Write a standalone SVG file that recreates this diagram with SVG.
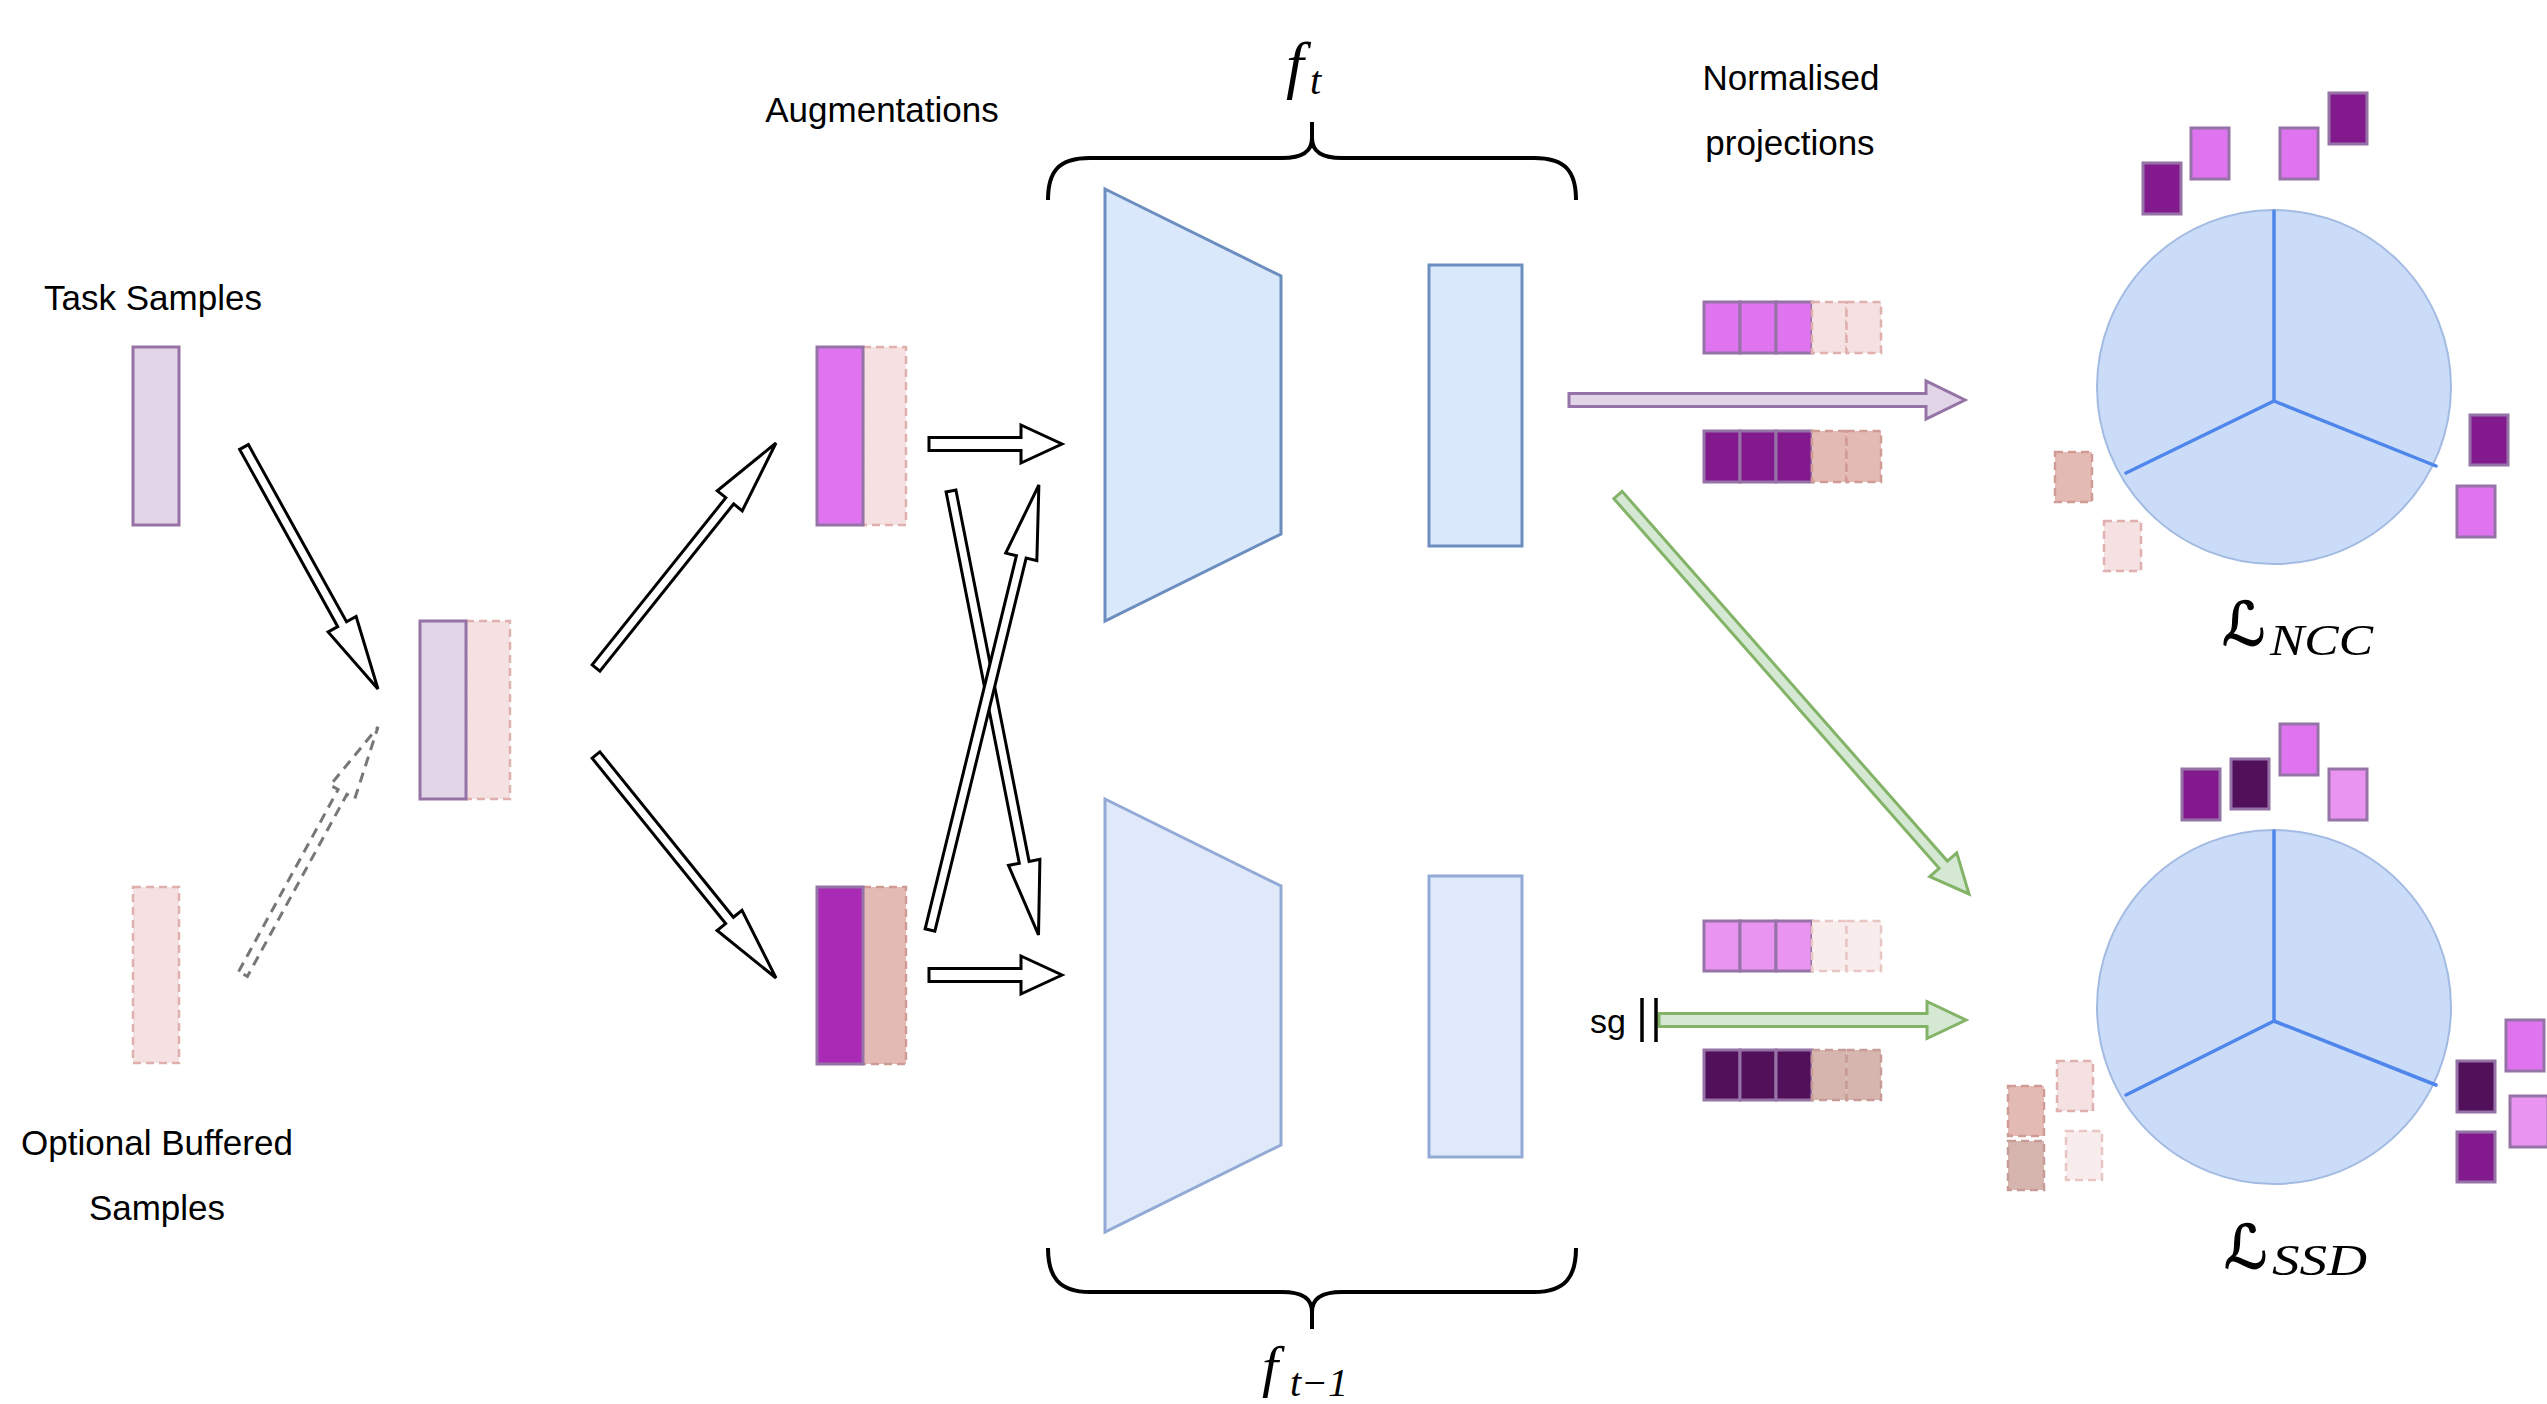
<svg xmlns="http://www.w3.org/2000/svg" width="2547" height="1404" viewBox="0 0 2547 1404">
<style>
.lbl{font-family:"Liberation Sans",Arial,sans-serif;font-size:35px;fill:#000}
.math{font-family:"Liberation Serif","Times New Roman",serif;font-style:italic;fill:#000}
.cal{font-family:"DejaVu Serif","DejaVu Sans",serif;fill:#000;stroke:#000;stroke-width:1.3}
.task{fill:#e1d5e7;stroke:#9673a6;stroke-width:3}
.cell{stroke:#9673a6;stroke-width:3}
.mag{fill:#e074f0}.mag2{fill:#a92bb5}.pur{fill:#82198c}.dk{fill:#520f5a}.lmag{fill:#ea94f2}
.pk{stroke-dasharray:8 5;stroke-width:2.5}
.p1{fill:#f5e1e1;stroke:#e0b0ae}.p2{fill:#e4bab5;stroke:#d09a95}.p3{fill:#f8ecec;stroke:#e8c6c4}.p4{fill:#d6b5ae;stroke:#c89c96}
.enc{fill:#dae8fc;stroke:#6c8ebf;stroke-width:3}
.enc2{fill:#dfe9fa;stroke:#93aad6;stroke-width:3}
.circ{fill:#cbdcf8;stroke:#a3bbe2;stroke-width:2}
.spoke{stroke:#4f86ec;stroke-width:3.5;fill:none;stroke-linecap:round}
.blk{fill:#fff;stroke:#000;stroke-width:3;stroke-linejoin:miter}
.dsh{fill:#fff;stroke:#777;stroke-width:3;stroke-dasharray:10 7}
.parr{fill:#e1d5e7;stroke:#9673a6;stroke-width:3}
.garr{fill:#d5e8d4;stroke:#82b366;stroke-width:3}
.brace{fill:none;stroke:#000;stroke-width:4}
</style>

<g id="labels">
  <text class="lbl" x="153" y="310" text-anchor="middle">Task Samples</text>
  <text class="lbl" x="157" y="1155" text-anchor="middle">Optional Buffered</text>
  <text class="lbl" x="157" y="1220" text-anchor="middle">Samples</text>
  <text class="lbl" x="882" y="122" text-anchor="middle">Augmentations</text>
  <text class="lbl" x="1791" y="90" text-anchor="middle">Normalised</text>
  <text class="lbl" x="1790" y="155" text-anchor="middle">projections</text>
  <text class="lbl" x="1608" y="1033" text-anchor="middle" style="font-size:34px">sg</text>
  <text class="math" x="1286" y="86" style="font-size:64px">f</text>
  <text class="math" x="1310" y="94" style="font-size:40px">t</text>
  <text class="math" x="1262" y="1386" style="font-size:58px">f</text>
  <text class="math" x="1290" y="1396" style="font-size:40px">t−1</text>
  <text class="cal" x="2222" y="645" style="font-size:60px">ℒ</text>
  <text class="math" x="2270" y="655" style="font-size:45px" textLength="103" lengthAdjust="spacingAndGlyphs">NCC</text>
  <text class="cal" x="2224" y="1268" style="font-size:60px">ℒ</text>
  <text class="math" x="2272" y="1275" style="font-size:45px" textLength="95" lengthAdjust="spacingAndGlyphs">SSD</text>
</g>

<g id="task-samples">
  <rect class="task" x="133" y="347" width="46" height="178"/>
</g>
<g id="buffered-samples">
  <rect class="pk p1" x="133" y="887" width="46" height="176"/>
</g>
<g id="combined-batch">
  <rect class="pk p1" x="466" y="621" width="44" height="178"/>
  <rect class="task" x="420" y="621" width="46" height="178"/>
</g>
<g id="aug-top">
  <rect class="pk p1" x="863" y="347" width="43" height="178"/>
  <rect class="cell mag" x="817" y="347" width="46" height="178"/>
</g>
<g id="aug-bottom">
  <rect class="pk p2" x="863" y="887" width="43" height="177"/>
  <rect class="cell mag2" x="817" y="887" width="46" height="177"/>
</g>

<g id="encoder-t">
  <polygon class="enc" points="1105,189 1281,276 1281,534 1105,621"/>
</g>
<g id="projector-t">
  <rect class="enc" x="1429" y="265" width="93" height="281"/>
</g>
<g id="encoder-t-1">
  <polygon class="enc2" points="1105,799 1281,886 1281,1145 1105,1232"/>
</g>
<g id="projector-t-1">
  <rect class="enc2" x="1429" y="876" width="93" height="281"/>
</g>

<g id="brace-t">
  <path class="brace" d="M1048,200 C1048,172 1058,158 1090,158 L1282,158 C1302,158 1312,152 1312,138 L1312,122 M1312,138 C1312,152 1322,158 1342,158 L1534,158 C1566,158 1576,172 1576,200"/>
</g>
<g id="brace-t-1">
  <path class="brace" d="M1048,1248 C1048,1276 1058,1292 1090,1292 L1282,1292 C1302,1292 1312,1298 1312,1312 L1312,1329 M1312,1312 C1312,1298 1322,1292 1342,1292 L1534,1292 C1566,1292 1576,1276 1576,1248"/>
</g>

<g id="proj-top-a">
  <rect class="cell mag" x="1704" y="302" width="36" height="51"/>
  <rect class="cell mag" x="1740" y="302" width="36" height="51"/>
  <rect class="cell mag" x="1776" y="302" width="36" height="51"/>
  <rect class="pk p1" x="1812" y="302" width="34.5" height="51"/>
  <rect class="pk p1" x="1846.5" y="302" width="34.5" height="51"/>
</g>
<g id="proj-top-b">
  <rect class="cell pur" x="1704" y="431" width="36" height="51"/>
  <rect class="cell pur" x="1740" y="431" width="36" height="51"/>
  <rect class="cell pur" x="1776" y="431" width="36" height="51"/>
  <rect class="pk p2" x="1812" y="431" width="34.5" height="51"/>
  <rect class="pk p2" x="1846.5" y="431" width="34.5" height="51"/>
</g>
<g id="proj-bot-a">
  <rect class="cell lmag" x="1704" y="921" width="36" height="50"/>
  <rect class="cell lmag" x="1740" y="921" width="36" height="50"/>
  <rect class="cell lmag" x="1776" y="921" width="36" height="50"/>
  <rect class="pk p3" x="1812" y="921" width="34.5" height="50"/>
  <rect class="pk p3" x="1846.5" y="921" width="34.5" height="50"/>
</g>
<g id="proj-bot-b">
  <rect class="cell dk" x="1704" y="1050" width="36" height="50"/>
  <rect class="cell dk" x="1740" y="1050" width="36" height="50"/>
  <rect class="cell dk" x="1776" y="1050" width="36" height="50"/>
  <rect class="pk p4" x="1812" y="1050" width="34.5" height="50"/>
  <rect class="pk p4" x="1846.5" y="1050" width="34.5" height="50"/>
</g>

<g id="ncc-space">
  <circle class="circ" cx="2274" cy="387" r="177"/>
  <path class="spoke" d="M2274,211 L2274,401 L2126,473 M2274,401 L2436,466"/>
  <rect class="cell pur" x="2143" y="163" width="38" height="51"/>
  <rect class="cell mag" x="2191" y="128" width="38" height="51"/>
  <rect class="cell mag" x="2280" y="128" width="38" height="51"/>
  <rect class="cell pur" x="2329" y="93" width="38" height="51"/>
  <rect class="cell pur" x="2470" y="415" width="38" height="50"/>
  <rect class="cell mag" x="2457" y="486" width="38" height="51"/>
  <rect class="pk p2" x="2055" y="452" width="37" height="50"/>
  <rect class="pk p1" x="2104" y="521" width="37" height="50"/>
</g>

<g id="ssd-space">
  <circle class="circ" cx="2274" cy="1007" r="177"/>
  <path class="spoke" d="M2274,831 L2274,1021 L2126,1095 M2274,1021 L2436,1085"/>
  <rect class="cell pur" x="2182" y="769" width="38" height="51"/>
  <rect class="cell dk" x="2231" y="759" width="38" height="50"/>
  <rect class="cell mag" x="2280" y="724" width="38" height="51"/>
  <rect class="cell lmag" x="2329" y="769" width="38" height="51"/>
  <rect class="cell mag" x="2506" y="1020" width="38" height="51"/>
  <rect class="cell dk" x="2457" y="1061" width="38" height="51"/>
  <rect class="cell lmag" x="2510" y="1096" width="38" height="51"/>
  <rect class="cell pur" x="2457" y="1132" width="38" height="50"/>
  <rect class="pk p2" x="2008" y="1086" width="36" height="50"/>
  <rect class="pk p4" x="2008" y="1141" width="36" height="49"/>
  <rect class="pk p1" x="2057" y="1061" width="36" height="50"/>
  <rect class="pk p3" x="2066" y="1131" width="36" height="49"/>
</g>

<g id="connectors">
  <polygon class="blk" transform="translate(244,447) rotate(61.03)" points="0,-5 202.6,-5 202.6,-16 276.6,0 202.6,16 202.6,5 0,5"/>
  <polygon class="dsh" transform="translate(243,974) rotate(-61.34)" points="0,-5 207.5,-5 207.5,-14 281.5,0 207.5,14 207.5,5 0,5"/>
  <polygon class="blk" transform="translate(596,668) rotate(-51.34)" points="0,-5 214.1,-5 214.1,-16 288.1,0 214.1,16 214.1,5 0,5"/>
  <polygon class="blk" transform="translate(596,755) rotate(51.09)" points="0,-5 212.6,-5 212.6,-16 286.6,0 212.6,16 212.6,5 0,5"/>
  <polygon class="blk" transform="translate(929,444)" points="0,-6.5 92,-6.5 92,-19 133,0 92,19 92,6.5 0,6.5"/>
  <polygon class="blk" transform="translate(929,975)" points="0,-6.5 92,-6.5 92,-19 133,0 92,19 92,6.5 0,6.5"/>
  <polygon class="blk" transform="translate(951,491) rotate(78.85)" points="0,-5 378.5,-5 378.5,-16 452.5,0 378.5,16 378.5,5 0,5"/>
  <polygon class="blk" transform="translate(930,930) rotate(-76.25)" points="0,-5 384.1,-5 384.1,-16 458.1,0 384.1,16 384.1,5 0,5"/>
  <polygon class="parr" transform="translate(1569,400)" points="0,-6.5 357,-6.5 357,-19 396,0 357,19 357,6.5 0,6.5"/>
  <polygon class="garr" transform="translate(1618,495) rotate(48.66)" points="0,-5.5 492.4,-5.5 492.4,-18 531.4,0 492.4,18 492.4,5.5 0,5.5"/>
  <polygon class="garr" transform="translate(1659,1020)" points="0,-6.5 268,-6.5 268,-18.5 307,0 268,18.5 268,6.5 0,6.5"/>
  <path d="M1642,998 L1642,1042 M1656,998 L1656,1042" stroke="#000" stroke-width="3.5" fill="none"/>
</g>
</svg>
